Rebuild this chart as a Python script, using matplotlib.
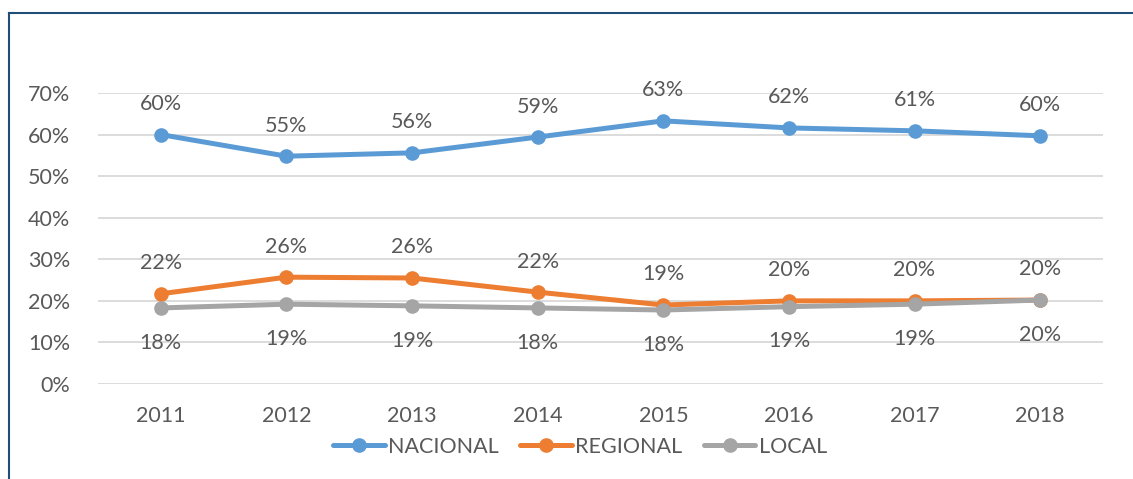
import matplotlib
matplotlib.use("Agg")
import matplotlib.pyplot as plt
from matplotlib.lines import Line2D
from matplotlib.ticker import PercentFormatter

years = ["2011", "2012", "2013", "2014", "2015", "2016", "2017", "2018"]
nacional = [60.0, 54.8, 55.6, 59.4, 63.3, 61.6, 60.9, 59.7]
regional = [21.7, 25.7, 25.5, 22.1, 19.0, 20.0, 20.0, 20.2]
local = [18.3, 19.2, 18.8, 18.3, 17.8, 18.6, 19.2, 20.2]
series_names = ["NACIONAL", "REGIONAL", "LOCAL"]

plt.rcParams['font.family'] = ['Lato', 'DejaVu Sans']
txt = '#595959'
fs = 15.5

fig = plt.figure(figsize=(11.33, 4.79), dpi=100)
ax = fig.add_axes([98/1133, 1-384/479, (1103-98)/1133, (384-93)/479])

x = list(range(len(years)))
colors = ['#5B9BD5', '#ED7D31', '#A5A5A5']
data = [nacional, regional, local]
offsets = [22, 22, -25]
for name, vals, c, off in zip(series_names, data, colors, offsets):
    ax.plot(x, vals, color=c, lw=3.6, marker='o', ms=9.5, label=name,
            solid_capstyle='round', zorder=3)
    for xi, v in zip(x, vals):
        ax.annotate(f"{round(v):.0f}%", (xi, v), xytext=(0, off), textcoords='offset points',
                    ha='center', va='center', fontsize=fs, color=txt, zorder=4)

ax.set_xlim(-0.5, len(years)-0.5)
ax.set_ylim(0, 70)
ax.set_yticks(range(0, 71, 10))
ax.yaxis.set_major_formatter(PercentFormatter(decimals=0))
ax.set_xticks(x)
ax.set_xticklabels(years)
ax.grid(axis='y', color='#D9D9D9', lw=1.3, zorder=0)
ax.set_axisbelow(True)
for s in ax.spines.values():
    s.set_visible(False)
ax.tick_params(axis='both', length=0, labelsize=fs, colors=txt)
ax.tick_params(axis='y', pad=20)
ax.tick_params(axis='x', pad=16)

leg = fig.legend(loc='center', bbox_to_anchor=(580/1133, 1-447/479), ncol=3, frameon=False,
                 fontsize=fs, labelcolor=txt, handlelength=2.4, columnspacing=1.0,
                 handletextpad=0.15)

fig.add_artist(Line2D([8.5/1133, 1.0], [1-12.5/479, 1-12.5/479], color='#1F4E79', lw=1.5))
fig.add_artist(Line2D([8.5/1133, 8.5/1133], [0, 1-12.5/479], color='#1F4E79', lw=1.5))

fig.savefig("out.png", dpi=100, facecolor='white')
